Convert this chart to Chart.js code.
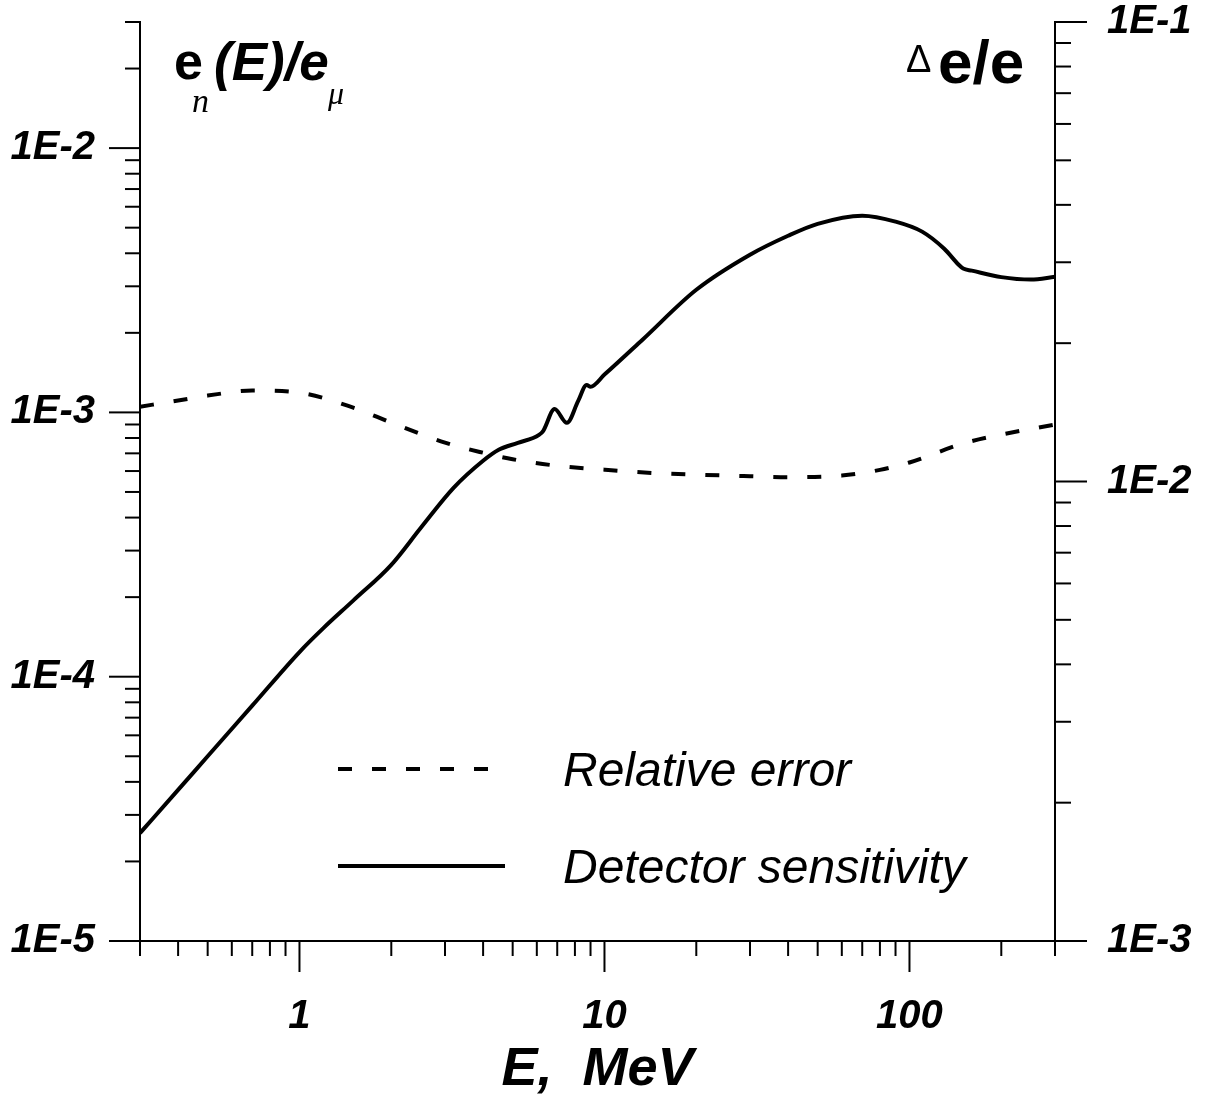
<!DOCTYPE html>
<html><head><meta charset="utf-8">
<script src="https://cdn.jsdelivr.net/npm/chart.js@4.4.1/dist/chart.umd.min.js"></script>
<style>html,body{margin:0;padding:0;background:#fff;overflow:hidden}#wrap{width:1209px;height:1099px}</style>
</head><body><div id="wrap"><canvas id="c" width="1209" height="1099"></canvas></div>
<script>
// ---- data ----
const sensEnergy = [0.3, 0.4, 0.5, 0.7, 1.0, 1.2, 1.5, 2.0, 2.5, 3.2, 4.0, 4.5, 5.2, 6.1, 6.3, 6.86, 7.53, 8.2, 8.74, 9.0, 10, 13.3, 20, 30, 40, 50, 70, 90, 110, 130, 145, 150, 160, 200, 250, 300];
const sensitivity = [2.56e-5, 3.73e-5, 5.0e-5, 7.77e-5, 1.24e-4, 1.53e-4, 1.94e-4, 2.65e-4, 3.66e-4, 5.18e-4, 6.56e-4, 7.22e-4, 7.67e-4, 8.22e-4, 8.52e-4, 1.03e-3, 9.13e-4, 1.106e-3, 1.27e-3, 1.25e-3, 1.39e-3, 1.88e-3, 2.91e-3, 3.95e-3, 4.66e-3, 5.17e-3, 5.55e-3, 5.27e-3, 4.83e-3, 4.16e-3, 3.62e-3, 3.5e-3, 3.44e-3, 3.25e-3, 3.18e-3, 3.26e-3];
const errEnergy = [0.3, 0.4, 0.5, 0.7, 1.0, 1.5, 2, 3, 4, 5, 7, 10, 15, 20, 30, 40, 60, 80, 100, 150, 200, 300];
const relError = [1.455e-2, 1.50e-2, 1.538e-2, 1.577e-2, 1.56e-2, 1.448e-2, 1.343e-2, 1.215e-2, 1.155e-2, 1.118e-2, 1.082e-2, 1.061e-2, 1.042e-2, 1.035e-2, 1.027e-2, 1.022e-2, 1.03e-2, 1.06e-2, 1.10e-2, 1.21e-2, 1.265e-2, 1.33e-2];
const xTicks = [0.3,0.4,0.5,0.6,0.7,0.8,0.9,1,2,3,4,5,6,7,8,9,10,20,30,40,50,60,70,80,90,100,200,300];
const xTickLabels = {1:'1', 10:'10', 100:'100'};
const yLeftTicks = [1e-5,2e-5,3e-5,4e-5,5e-5,6e-5,7e-5,8e-5,9e-5,1e-4,2e-4,3e-4,4e-4,5e-4,6e-4,7e-4,8e-4,9e-4,1e-3,2e-3,3e-3,4e-3,5e-3,6e-3,7e-3,8e-3,9e-3,1e-2,2e-2,3e-2];
const yLeftLabels = {'-5':'1E-5','-4':'1E-4','-3':'1E-3','-2':'1E-2'};
const yRightTicks = [1e-3,2e-3,3e-3,4e-3,5e-3,6e-3,7e-3,8e-3,9e-3,1e-2,2e-2,3e-2,4e-2,5e-2,6e-2,7e-2,8e-2,9e-2,1e-1];
const yRightLabels = {'-3':'1E-3','-2':'1E-2','-1':'1E-1'};
const seriesLabels = ['Relative error', 'Detector sensitivity'];

// ---- helpers ----
function isDecade(v){ const l = Math.log10(v); return Math.abs(l - Math.round(l)) < 1e-6; }
function decKey(v){ return String(Math.round(Math.log10(v))); }
const FONT = "'Liberation Sans', Arial, sans-serif";
const SERIF = "'Liberation Serif', 'Times New Roman', serif";
const tickFont = {family: FONT, size: 40, weight: 'bold', style: 'italic', lineHeight: 1};

const tickMarks = {
  id: 'tickMarks',
  afterDraw(chart) {
    const ctx = chart.ctx, a = chart.chartArea;
    ctx.save();
    ctx.strokeStyle = '#000'; ctx.lineWidth = 2; ctx.lineCap = 'butt';
    const seg = (x1,y1,x2,y2)=>{ctx.beginPath();ctx.moveTo(x1,y1);ctx.lineTo(x2,y2);ctx.stroke();};
    const sx = chart.scales.x, sl = chart.scales.y, sr = chart.scales.y2;
    xTicks.forEach(v => { const p = sx.getPixelForValue(v); seg(p, a.bottom, p, a.bottom + (isDecade(v) ? 31 : 15)); });
    yLeftTicks.forEach(v => { const p = sl.getPixelForValue(v); seg(a.left - (isDecade(v) ? 31 : 15), p, a.left, p); });
    yRightTicks.forEach(v => { const p = sr.getPixelForValue(v); seg(a.right, p, a.right + (isDecade(v) ? 32 : 16), p); });
    ctx.restore();
  }
};

const textDeco = {
  id: 'textDeco',
  afterDraw(chart) {
    const ctx = chart.ctx;
    ctx.save();
    ctx.fillStyle = '#000';
    ctx.textBaseline = 'alphabetic';
    ctx.textAlign = 'left';
    // left axis title e_n(E)/e_mu
    ctx.font = "bold 52px " + FONT; ctx.fillText('e', 174, 79);
    ctx.font = "italic 34px " + SERIF; ctx.fillText('n', 192, 112);
    ctx.font = "italic bold 53px " + FONT; ctx.fillText('(E)/e', 214, 80);
    ctx.font = "italic 32px " + SERIF; ctx.fillText('\u03BC', 328, 104);
    // right axis title  Δe/e
    ctx.font = "38px " + FONT; ctx.fillText('\u0394', 906, 72);
    ctx.font = "bold 62px " + FONT; ctx.fillText('e/e', 938, 83);
    // legend
    const ds = chart.data.datasets;
    const rows = [{d: ds[0], y: 769, x2: 490}, {d: ds[1], y: 866, x2: 505}];
    rows.forEach(r => {
      ctx.strokeStyle = r.d.borderColor; ctx.lineWidth = r.d.borderWidth;
      ctx.setLineDash(r.d.borderDash || []);
      ctx.lineCap = 'butt';
      ctx.beginPath(); ctx.moveTo(338, r.y); ctx.lineTo(r.x2, r.y); ctx.stroke();
      ctx.setLineDash([]);
      ctx.font = "italic 48px " + FONT;
      ctx.fillText(r.d.label, 563, r.y + 17);
    });
    ctx.restore();
  }
};

function fixV(width){ return s => { s.width = width; s.paddingTop = 0; s.paddingBottom = 0; }; }

new Chart(document.getElementById('c'), {
  type: 'line',
  data: {
    datasets: [
      { label: seriesLabels[0], data: errEnergy.map((e,i)=>({x:e, y:relError[i]})), yAxisID: 'y2',
        borderColor: '#000', borderWidth: 4, borderDash: [14, 20], pointRadius: 0, cubicInterpolationMode: 'monotone', fill: false },
      { label: seriesLabels[1], data: sensEnergy.map((e,i)=>({x:e, y:sensitivity[i]})), yAxisID: 'y',
        borderColor: '#000', borderWidth: 4, pointRadius: 0, cubicInterpolationMode: 'monotone', fill: false }
    ]
  },
  options: {
    responsive: false, animation: false, devicePixelRatio: 1,
    layout: { padding: {top: 22, left: 0, right: 0, bottom: 0}, autoPadding: false },
    plugins: { legend: {display: false}, tooltip: {enabled: false}, title: {display: false} },
    scales: {
      x: {
        type: 'logarithmic', position: 'bottom', min: 0.3, max: 300,
        afterBuildTicks: s => { s.ticks = xTicks.map(v => ({value: v})); },
        afterFit: s => { s.height = 158; s.paddingLeft = 0; s.paddingRight = 0; },
        grid: {display: false, drawTicks: false},
        border: {display: true, color: '#000', width: 2},
        ticks: { autoSkip: false, maxRotation: 0, minRotation: 0, padding: 56, color: '#000', font: tickFont,
          callback: v => xTickLabels[v] || '' },
        title: { display: true, text: 'E,  MeV', color: '#000', padding: {top: 0, bottom: 1.5},
          font: {family: FONT, size: 54, weight: 'bold', style: 'italic', lineHeight: 1} }
      },
      y: {
        type: 'logarithmic', position: 'left', min: 1e-5, max: 3e-2,
        afterBuildTicks: s => { s.ticks = yLeftTicks.map(v => ({value: v})); },
        afterFit: fixV(140),
        grid: {display: false, drawTicks: false},
        border: {display: true, color: '#000', width: 2},
        ticks: { autoSkip: false, padding: 45, color: '#000', font: tickFont,
          callback: v => isDecade(v) ? (yLeftLabels[decKey(v)] || '') : '' }
      },
      y2: {
        type: 'logarithmic', position: 'right', min: 1e-3, max: 1e-1,
        afterBuildTicks: s => { s.ticks = yRightTicks.map(v => ({value: v})); },
        afterFit: fixV(154),
        grid: {display: false, drawTicks: false},
        border: {display: true, color: '#000', width: 2},
        ticks: { autoSkip: false, padding: 52, color: '#000', font: tickFont,
          callback: v => isDecade(v) ? (yRightLabels[decKey(v)] || '') : '' }
      }
    }
  },
  plugins: [tickMarks, textDeco]
});
</script>
</body></html>
